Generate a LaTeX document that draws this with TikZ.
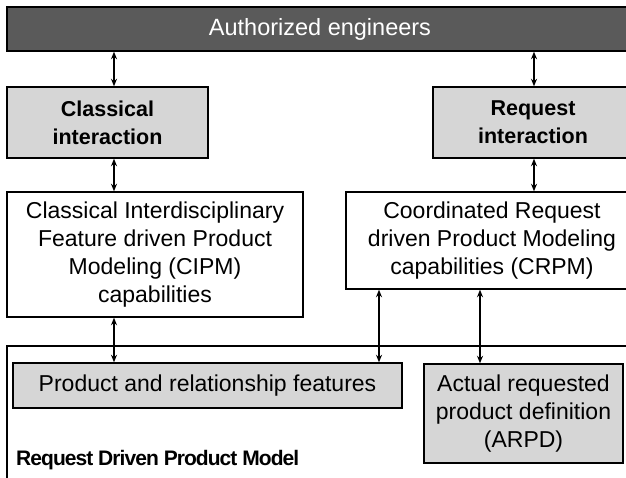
\documentclass[tikz,border=0pt]{standalone}
\usepackage{fontspec}
\setmainfont{Liberation Sans}
\usetikzlibrary{arrows.meta}
\definecolor{bardark}{HTML}{5A5A5A}
\definecolor{boxgray}{HTML}{D6D6D6}
\begin{document}
\begin{tikzpicture}[x=1pt,y=-1pt,
  frame/.style={draw=black, line width=1.4pt, inner sep=0pt, align=center,
    font=\fontsize{23}{28}\selectfont},
  graybox/.style={frame, fill=boxgray},
  boldbox/.style={graybox, font=\fontsize{21.5}{28}\selectfont\bfseries},
  link/.style={{Stealth[length=7.5pt,width=6pt]}-{Stealth[length=7.5pt,width=6pt]},
    line width=1.3pt}]
\useasboundingbox (0,0) rectangle (626,477);
\clip (0,0) rectangle (626,477);
\fill[white] (0,0) rectangle (626,477);

% top bar
\node[frame, fill=bardark, text=white, minimum width=626pt, minimum height=44pt,
  font=\fontsize{23.5}{28}\selectfont]
  (eng) at (320,29) {Authorized engineers};

% interaction boxes
\node[boldbox, minimum width=201pt, minimum height=71pt] (cls) at (107.5,122.5)
  {Classical\\interaction};
\node[boldbox, minimum width=200pt, minimum height=71pt] (req) at (533,122.5)
  {Request\\interaction};

% capability boxes
\node[frame, fill=white, minimum width=296pt, minimum height=125pt] (cipm) at (155,254.5)
  {Classical Interdisciplinary\\Feature driven Product\\Modeling (CIPM)\\capabilities};
\node[frame, fill=white, minimum width=292pt, minimum height=97pt] (crpm) at (492,240.5)
  {Coordinated Request\\driven Product Modeling\\capabilities (CRPM)};

% product model container
\node[frame, fill=white, minimum width=643pt, minimum height=154pt] (rdpm) at (328.5,423) {};
\node[anchor=base west, inner sep=0pt,
  font=\fontsize{21}{24}\selectfont\bfseries\addfontfeatures{LetterSpace=-4.5}]
  (rdpmlabel) at (16,465) {Request Driven Product Model};
\node[graybox, minimum width=389pt, minimum height=45pt] (feat) at (207.5,385.5)
  {Product and relationship features};
\node[graybox, minimum width=199pt, minimum height=99pt] (arpd) at (523.5,413.5)
  {Actual requested\\product definition\\(ARPD)};

% connector columns
\coordinate (xa) at (114,0);
\coordinate (xb) at (534,0);
\coordinate (xc) at (379,0);
\coordinate (xd) at (480,0);

\draw[link] (eng.south -| xa) -- (cls.north -| xa);
\draw[link] (eng.south -| xb) -- (req.north -| xb);
\draw[link] (cls.south -| xa) -- (cipm.north -| xa);
\draw[link] (req.south -| xb) -- (crpm.north -| xb);
\draw[link] (cipm.south -| xa) -- (feat.north -| xa);
\draw[link] (crpm.south -| xc) -- (feat.north -| xc);
\draw[link] (crpm.south -| xd) -- (arpd.north -| xd);
\end{tikzpicture}
\end{document}
